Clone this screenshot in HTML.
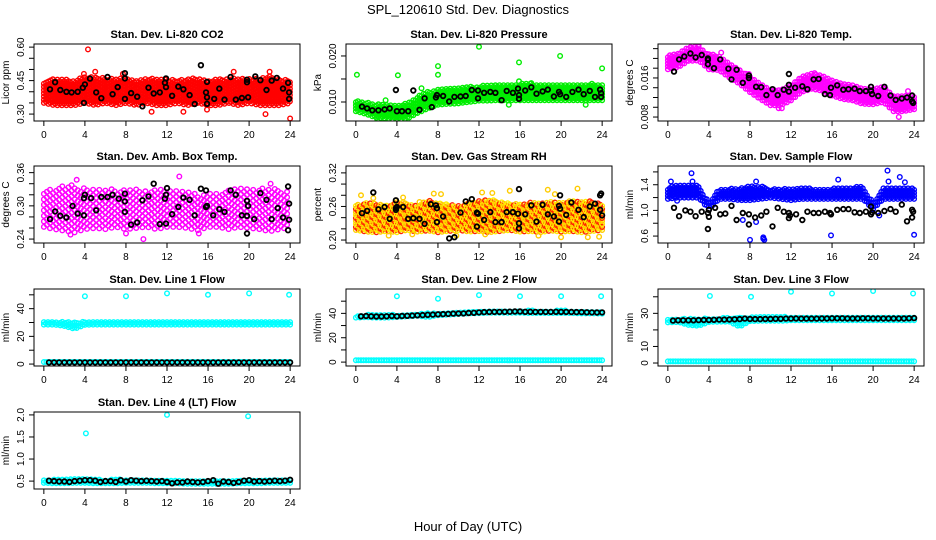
<!DOCTYPE html>
<html><head><meta charset="utf-8">
<style>
html,body{margin:0;padding:0;background:#fff;}
svg{display:block;font-family:"Liberation Sans",sans-serif;}
</style></head>
<body>
<svg id="chart" width="936" height="540" viewBox="0 0 936 540">
<text x="468" y="14" text-anchor="middle" font-size="13">SPL_120610  Std. Dev. Diagnostics</text>
<text x="468" y="531" text-anchor="middle" font-size="13">Hour of Day (UTC)</text>
</svg>
<script>
// ---------- data (hours 0..24 envelopes; points as [hour, value]) ----------
const hourTicks = [0,4,8,12,16,20,24];

const co2Lo = [0.35,0.34,0.34,0.34,0.35,0.34,0.35,0.34,0.35,0.34,0.35,0.34,0.34,0.35,0.34,0.35,0.34,0.34,0.35,0.34,0.35,0.34,0.34,0.34,0.35];
const co2Hi = [0.45,0.46,0.46,0.45,0.47,0.47,0.46,0.46,0.46,0.45,0.46,0.46,0.46,0.45,0.46,0.46,0.45,0.46,0.46,0.46,0.46,0.46,0.47,0.46,0.45];
const co2Out = [[4.3,0.59],[5.0,0.49],[15.9,0.32],[21.6,0.30],[24,0.28],[22,0.49],[18.5,0.49],[13.6,0.31],[10.5,0.31],[7.7,0.48],[3.9,0.48]];
const co2Black = [[0.6,0.411],[1.1,0.443],[1.6,0.408],[2.2,0.40],[2.7,0.397],[3.3,0.40],[3.8,0.418],[3.9,0.35],[4.0,0.433],[4.5,0.459],[5.1,0.397],[5.6,0.371],[6.2,0.466],[6.7,0.389],[7.2,0.421],[7.9,0.483],[7.9,0.46],[7.9,0.368],[8.5,0.394],[9.1,0.378],[9.6,0.335],[10.2,0.418],[10.7,0.392],[11.3,0.397],[11.9,0.46],[11.8,0.44],[11.9,0.421],[12.5,0.382],[13.1,0.423],[13.6,0.411],[14.2,0.385],[14.7,0.345],[15.3,0.519],[15.8,0.397],[15.9,0.346],[15.9,0.375],[15.9,0.444],[16.6,0.368],[17.1,0.414],[17.6,0.365],[18.2,0.466],[18.7,0.365],[19.3,0.372],[19.8,0.454],[19.8,0.443],[19.9,0.375],[20.6,0.469],[21.1,0.452],[21.7,0.408],[22.2,0.45],[22.7,0.462],[23.3,0.414],[23.8,0.44],[23.9,0.397],[23.9,0.368]];

const presLo = [0.0080,0.0074,0.0066,0.0064,0.0062,0.0064,0.0076,0.0086,0.0094,0.0096,0.0097,0.0100,0.0103,0.0103,0.0104,0.0104,0.0104,0.0104,0.0104,0.0104,0.0104,0.0104,0.0104,0.0104,0.0104];
const presHi = [0.0104,0.0100,0.0096,0.0094,0.0092,0.0098,0.0112,0.0122,0.0128,0.0131,0.0132,0.0133,0.0134,0.0138,0.0139,0.0139,0.0140,0.0140,0.0139,0.0139,0.0138,0.0138,0.0139,0.0140,0.0138];
const presOut = [[0.1,0.0159],[4.1,0.0158],[8.0,0.0178],[8.0,0.0159],[12.0,0.0220],[15.9,0.0186],[15.9,0.0145],[19.9,0.0200],[24,0.0173],[6.4,0.0130],[4.8,0.0063],[2.1,0.0060],[22.4,0.0094],[14.9,0.0094],[17.1,0.0141],[2.9,0.0104]];
const presBlack = [[0.6,0.0090],[1.1,0.0086],[1.6,0.0082],[2.2,0.0082],[2.8,0.0084],[3.3,0.0086],[3.9,0.0126],[4.0,0.0080],[4.5,0.0080],[5.1,0.0080],[5.6,0.0125],[6.2,0.0083],[6.7,0.0108],[7.4,0.0089],[7.8,0.0110],[7.9,0.0115],[8.5,0.0113],[9.1,0.0101],[9.6,0.0111],[10.2,0.0112],[10.7,0.0113],[11.3,0.0126],[11.9,0.0125],[11.9,0.0108],[12.5,0.0120],[13.1,0.0122],[13.6,0.0120],[14.2,0.0104],[14.7,0.0124],[15.3,0.0120],[15.8,0.0129],[15.9,0.0115],[15.9,0.0107],[16.5,0.0125],[17.1,0.0132],[17.6,0.0118],[18.2,0.0123],[18.7,0.0127],[19.3,0.0112],[19.8,0.0122],[19.9,0.0117],[20.5,0.0111],[21.1,0.0122],[21.7,0.0127],[22.2,0.0117],[22.8,0.0124],[23.3,0.0111],[23.8,0.0127],[23.9,0.0119],[23.9,0.0111]];

const tempLo = [0.0178,0.0182,0.0195,0.0196,0.0178,0.0176,0.0161,0.0148,0.0131,0.0117,0.0104,0.0104,0.0114,0.0131,0.0138,0.0134,0.0124,0.0117,0.0114,0.0107,0.0106,0.0111,0.0092,0.0092,0.0096];
const tempHi = [0.0206,0.0210,0.0223,0.0224,0.0210,0.0206,0.0191,0.0178,0.0163,0.0149,0.0136,0.0136,0.0146,0.0163,0.0170,0.0166,0.0156,0.0149,0.0146,0.0139,0.0138,0.0143,0.0124,0.0124,0.0124];
const tempOut = [[7.9,0.0168],[14.3,0.0170],[10.8,0.0098],[11.1,0.0098],[22.5,0.0080],[23.4,0.0133],[3.0,0.0228],[5.2,0.0212]];
const tempBlack = [[0.6,0.0173],[1.1,0.0198],[1.6,0.0204],[2.2,0.0210],[2.7,0.0202],[3.3,0.0207],[3.9,0.0200],[3.9,0.0188],[3.9,0.0197],[4.5,0.0180],[5.1,0.0198],[5.9,0.0179],[6.2,0.0157],[6.7,0.0177],[7.3,0.0150],[7.9,0.0165],[7.9,0.0160],[8.6,0.0142],[9.1,0.0141],[9.6,0.0125],[10.2,0.0137],[10.7,0.0125],[11.3,0.0136],[11.8,0.0168],[11.8,0.0146],[11.8,0.0132],[12.4,0.0140],[13.1,0.0143],[13.6,0.0137],[14.2,0.0157],[14.7,0.0158],[15.3,0.0127],[15.8,0.0125],[15.9,0.0140],[16.5,0.0145],[17.1,0.0136],[17.6,0.0137],[18.2,0.0138],[18.7,0.0133],[19.3,0.0133],[19.8,0.0142],[19.8,0.0134],[19.9,0.0127],[20.5,0.0123],[21.1,0.0142],[21.7,0.0124],[22.2,0.0115],[22.8,0.0118],[23.3,0.0120],[23.8,0.0124],[23.8,0.0112],[23.9,0.0109]];

const ambLo = [0.262,0.258,0.255,0.252,0.258,0.260,0.258,0.262,0.258,0.260,0.262,0.258,0.262,0.262,0.260,0.256,0.262,0.262,0.258,0.262,0.260,0.258,0.254,0.258,0.262];
const ambHi = [0.325,0.332,0.336,0.338,0.332,0.330,0.334,0.330,0.332,0.330,0.328,0.332,0.326,0.330,0.326,0.320,0.326,0.322,0.330,0.332,0.330,0.332,0.334,0.330,0.325];
const ambOut = [[13.2,0.353],[9.7,0.240],[3.2,0.347],[2.6,0.248],[8.0,0.250],[15.1,0.250],[22.1,0.340]];
const ambBlack = [[0.6,0.276],[1.1,0.290],[1.6,0.282],[2.2,0.279],[2.8,0.300],[3.3,0.286],[3.9,0.283],[3.9,0.314],[4.0,0.320],[4.6,0.314],[5.1,0.292],[5.6,0.316],[6.2,0.316],[6.7,0.320],[7.3,0.313],[7.9,0.322],[7.9,0.308],[7.9,0.289],[8.5,0.266],[9.1,0.270],[9.6,0.310],[10.2,0.317],[10.7,0.340],[11.3,0.267],[11.8,0.313],[11.9,0.320],[11.9,0.268],[12.0,0.332],[12.5,0.285],[13.1,0.298],[13.6,0.315],[14.2,0.311],[14.7,0.283],[15.3,0.331],[15.8,0.328],[15.8,0.298],[15.9,0.300],[16.5,0.283],[17.1,0.294],[17.6,0.289],[18.2,0.328],[18.7,0.320],[19.3,0.283],[19.8,0.282],[19.8,0.250],[19.8,0.309],[19.9,0.300],[20.5,0.276],[21.1,0.323],[21.7,0.311],[22.2,0.276],[22.8,0.296],[23.3,0.279],[23.8,0.256],[23.8,0.335],[23.9,0.275],[23.9,0.304]];

const rhLo = [0.218,0.215,0.214,0.216,0.214,0.218,0.215,0.217,0.214,0.216,0.218,0.215,0.216,0.214,0.216,0.218,0.215,0.216,0.214,0.217,0.215,0.216,0.214,0.216,0.218];
const rhHi = [0.262,0.268,0.266,0.262,0.270,0.266,0.262,0.272,0.266,0.264,0.262,0.266,0.270,0.274,0.268,0.266,0.264,0.268,0.266,0.270,0.266,0.272,0.268,0.270,0.264];
const rhOut = [[0.5,0.280],[1.7,0.275],[4.6,0.276],[6.2,0.268],[7.6,0.283],[8.3,0.282],[12.3,0.285],[13.3,0.284],[15.0,0.288],[18.7,0.290],[20.0,0.205],[21.6,0.292],[22.6,0.205],[23.7,0.206],[9.8,0.208],[12.6,0.210],[17.8,0.208],[3.2,0.208],[5.5,0.210],[19.4,0.282]];
const rhBlack = [[0.6,0.248],[1.1,0.252],[1.7,0.285],[2.2,0.255],[2.8,0.259],[3.3,0.238],[3.9,0.271],[3.9,0.257],[3.9,0.254],[4.0,0.259],[4.6,0.259],[5.1,0.238],[5.6,0.239],[6.2,0.238],[6.7,0.229],[7.3,0.264],[7.8,0.262],[7.9,0.257],[7.9,0.232],[8.0,0.338],[8.5,0.242],[9.1,0.203],[9.6,0.205],[10.2,0.249],[10.7,0.269],[11.3,0.273],[11.8,0.249],[11.8,0.224],[11.9,0.247],[12.5,0.236],[13.1,0.250],[13.6,0.232],[14.2,0.232],[14.7,0.250],[15.3,0.250],[15.8,0.247],[15.9,0.230],[15.9,0.221],[15.9,0.291],[16.5,0.246],[17.1,0.262],[17.6,0.233],[18.2,0.263],[18.7,0.246],[19.3,0.242],[19.8,0.261],[19.8,0.233],[19.9,0.256],[19.9,0.280],[20.5,0.245],[21.0,0.267],[21.7,0.254],[22.2,0.241],[22.8,0.260],[23.3,0.265],[23.8,0.254],[23.8,0.280],[23.9,0.283],[24.0,0.244]];

const flowLo = [1.18,1.20,1.20,1.20,1.02,1.18,1.18,1.16,1.16,1.18,1.20,1.18,1.16,1.18,1.18,1.18,1.18,1.18,1.18,1.18,1.02,1.18,1.18,1.18,1.18];
const flowHi = [1.36,1.40,1.40,1.40,1.12,1.34,1.34,1.34,1.38,1.38,1.34,1.34,1.34,1.36,1.34,1.34,1.34,1.36,1.36,1.38,1.12,1.36,1.36,1.36,1.34];
const flowOut = [[0.3,1.45],[2.3,1.58],[2.4,1.45],[8.0,0.54],[9.3,0.58],[9.4,0.54],[9.3,0.56],[15.9,0.61],[16.6,1.48],[21.4,1.62],[21.5,1.45],[22.6,1.52],[24.0,0.62],[7.3,0.85],[8.6,0.82],[0.9,1.15],[8.6,1.45],[23.1,1.44],[20.6,0.92]];
const flowBlack = [[0.6,1.04],[1.1,0.91],[1.7,1.00],[2.2,0.98],[2.7,0.91],[3.3,0.98],[3.9,0.71],[3.9,0.96],[4.0,0.90],[4.0,1.01],[4.6,1.04],[5.1,0.94],[5.6,0.95],[6.2,1.07],[6.7,0.85],[7.3,0.96],[7.9,0.94],[7.9,0.78],[8.5,0.89],[9.1,0.92],[9.6,0.98],[10.2,0.75],[10.7,1.04],[11.3,0.98],[11.8,0.96],[11.8,0.88],[11.9,0.92],[12.5,0.94],[13.1,0.85],[13.6,0.98],[14.2,0.96],[14.7,0.96],[15.3,0.98],[15.8,0.96],[15.9,0.94],[16.5,1.01],[17.1,1.02],[17.6,1.02],[18.2,0.97],[18.7,0.96],[19.3,0.98],[19.8,0.94],[19.8,1.06],[19.9,0.97],[20.5,0.96],[21.1,0.99],[21.7,1.02],[22.2,0.98],[22.8,1.09],[23.3,0.83],[23.8,0.89],[23.8,1.01],[23.9,0.98]];

const line1Lo = [28.5,28.5,27.5,25.5,28.3,28.5,28.5,28.5,28.5,28.5,28.5,28.5,28.5,28.5,28.5,28.5,28.5,28.5,28.5,28.5,28.5,28.5,28.5,28.5,28.5];
const line1Hi = [30.5,30.5,30.5,30.5,30.8,30.5,30.5,31.0,31.0,30.5,30.5,30.5,30.5,30.5,30.5,30.5,30.5,30.5,30.5,30.5,30.5,30.5,30.5,30.5,30.5];
const line1Out = [[4.0,49],[8.0,49],[12.0,51],[16.0,50],[20.0,51],[23.9,50]];
const line1Base = [1.5,1.5,1.5,1.5,1.5,1.5,1.5,1.5,1.5,1.5,1.5,1.5,1.5,1.5,1.5,1.5,1.5,1.5,1.5,1.5,1.5,1.5,1.5,1.5,1.5];
const line1Black = [1.2,1.2,1.2,1.2,1.2,1.2,1.2,1.2,1.2,1.2,1.2,1.2,1.2,1.2,1.2,1.2,1.2,1.2,1.2,1.2,1.2,1.2,1.2,1.2,1.2,1.2,1.2,1.2,1.2,1.2,1.2,1.2,1.2,1.2,1.2,1.2,1.2,1.2,1.2,1.2,1.2,1.2,1.2,1.2,1.2,1.2,1.2,1.2];

const line2Lo = [36.5,36.8,36.5,36.5,37.0,37.5,38.0,37.0,38.5,39.0,39.5,40.0,40.2,40.5,40.5,40.5,40.5,40.3,40.3,40.3,40.3,40.3,40.0,40.0,39.8];
const line2Hi = [38.5,38.8,38.8,39.0,39.0,39.5,40.0,40.2,40.5,41.0,41.5,42.0,42.2,42.5,42.5,42.5,42.5,42.4,42.3,42.3,42.5,42.3,42.0,42.0,41.8];
const line2Out = [[4.0,54],[8.0,52],[12.0,55],[16.0,54],[20.0,54],[23.9,54]];
const line2Base = [1.5,1.5,1.5,1.5,1.5,1.5,1.5,1.5,1.5,1.5,1.5,1.5,1.5,1.5,1.5,1.5,1.5,1.5,1.5,1.5,1.5,1.5,1.5,1.5,1.5];
const line2Black = [37.6,37.8,37.6,37.4,37.4,37.6,37.8,37.6,37.8,38.0,38.2,38.4,38.6,38.8,39.0,39.2,39.4,39.6,39.8,39.9,40.0,40.3,40.5,40.8,41.0,41.1,41.2,41.2,41.3,41.4,41.5,41.5,41.3,41.3,41.2,41.2,41.2,41.2,41.3,41.2,41.2,41.1,41.0,41.0,40.9,40.8,40.7,40.8];

const line3Lo = [24.5,24.8,23.0,22.5,24.8,25.0,25.0,22.0,25.3,25.5,25.5,25.5,25.8,25.8,25.8,25.8,25.8,25.8,25.8,25.8,25.8,25.8,25.8,25.8,25.8];
const line3Hi = [26.5,26.8,26.8,26.8,27.0,27.2,27.4,27.6,27.8,27.8,27.8,27.9,28.0,28.0,28.0,28.0,28.0,28.0,28.0,28.0,28.0,27.9,27.9,27.9,27.9];
const line3Out = [[4.1,40.5],[8.1,40],[12.0,43],[16.0,42],[20.0,43.5],[23.9,42]];
const line3Base = [1.0,1.0,1.0,1.0,1.0,1.0,1.0,1.0,1.0,1.0,1.0,1.0,1.0,1.0,1.0,1.0,1.0,1.0,1.0,1.0,1.0,1.0,1.0,1.0,1.0];
const line3Black = [25.6,25.8,25.8,25.8,25.8,25.9,26.0,26.0,26.1,26.2,26.2,26.3,26.4,26.5,26.8,26.6,26.5,26.5,26.6,26.6,26.7,26.7,26.8,26.8,26.9,26.8,26.8,26.8,26.8,26.9,26.9,27.0,27.0,27.0,26.9,26.9,26.9,27.0,27.0,26.9,26.9,26.9,26.9,26.9,26.9,26.9,27.0,27.1];

const line4Lo = [0.46,0.45,0.45,0.46,0.46,0.45,0.45,0.45,0.46,0.46,0.46,0.45,0.45,0.45,0.44,0.44,0.44,0.44,0.44,0.45,0.45,0.45,0.46,0.46,0.46];
const line4Hi = [0.52,0.54,0.55,0.55,0.56,0.54,0.53,0.54,0.54,0.53,0.53,0.52,0.52,0.53,0.52,0.52,0.52,0.51,0.51,0.52,0.52,0.52,0.53,0.54,0.54];
const line4Out = [[4.1,1.58],[12.0,2.0],[19.9,1.97]];
const line4Black = [0.51,0.50,0.49,0.49,0.48,0.50,0.51,0.52,0.52,0.51,0.48,0.50,0.50,0.48,0.52,0.49,0.52,0.51,0.50,0.51,0.50,0.49,0.50,0.48,0.45,0.47,0.47,0.49,0.48,0.47,0.48,0.50,0.52,0.44,0.49,0.48,0.46,0.48,0.51,0.52,0.49,0.50,0.49,0.50,0.51,0.50,0.51,0.53];

// ---------- rendering ----------
const NS = "http://www.w3.org/2000/svg";
const svg = document.getElementById('chart');
function mk(tag, attrs, parent){
  const e = document.createElementNS(NS, tag);
  for (const k in attrs) e.setAttribute(k, attrs[k]);
  (parent||svg).appendChild(e);
  return e;
}
const colX = [34, 346, 658];
const rowY = [44, 166, 289, 412];
const BW = 266, BH = 77;

function envAt(arr, h){ const i = Math.min(23, Math.floor(h)); const f = h - i; return arr[i]*(1-f) + arr[i+1]*f; }

function panel(cfg){
  const bx = colX[cfg.col], by = rowY[cfg.row];
  const g = mk('g', {});
  
  
  const sx = h => bx + (h + 0.96) / 25.92 * BW;
  const sy = v => by + BH - (v - cfg.ymin) / (cfg.ymax - cfg.ymin) * BH;
  const cid = 'clip' + cfg.name;
  const cp = mk('clipPath', {id: cid}, g);
  mk('rect', {x: bx, y: by, width: BW, height: BH}, cp);
  const marks = mk('g', {'clip-path': 'url(#' + cid + ')'}, g);
  
  
  function pt(h, v, color, sw){
    const c = mk('circle', {cx: sx(h).toFixed(1), cy: sy(v).toFixed(1), r: 2.3, fill: 'none', stroke: color, 'stroke-width': sw||1.4}, marks);
    
    
  }
  (cfg.clouds||[]).forEach(cl => {
    let k = 0;
    for (let h = 0; h <= 24; h += cl.dx) {
      const lo = envAt(cl.lo, h), hi = envAt(cl.hi, h);
      const yTop = sy(hi), yBot = sy(lo);
      let j = 0;
      for (let y = yBot - ((k % 2) ? cl.dy / 2 : 0); y >= yTop; y -= cl.dy) {
        const col = cl.colors[(k + j) % cl.colors.length];
        const c = mk('circle', {cx: sx(h).toFixed(1), cy: y.toFixed(1), r: 2.3, fill: 'none', stroke: col, 'stroke-width': 1.4}, marks);
        
        
        j++;
      }
      k++;
    }
  });
  (cfg.baseLines||[]).forEach(b => {
    for (let i = 0; i < b.vals.length; i++) {
      for (let s = 0; s < 4; s++) { if (i + s * 0.25 <= 24) pt(i + s * 0.25, b.vals[i], b.color); }
    }
  });
  (cfg.outliers||[]).forEach(o => o.pts.forEach(p => pt(p[0], p[1], o.color)));
  (cfg.halfHourly||[]).forEach(b => b.vals.forEach((v, i) => pt(0.5 + i * 0.5, v, b.color, 1.8)));
  (cfg.black||[]).forEach(p => pt(p[0], p[1], '#000', 1.8));
  const box = mk('rect', {x: bx, y: by, width: BW, height: BH, fill: 'none', stroke: '#000', 'stroke-width': 1}, g);
  
  
  const t = mk('text', {x: bx + BW/2, y: by - 6, 'text-anchor': 'middle', 'font-size': 11, 'font-weight': 'bold'}, g);
  t.textContent = cfg.title;
  
  
  const xa = mk('g', {}, g);
  
  
  mk('line', {x1: sx(0), x2: sx(24), y1: by + BH, y2: by + BH, stroke: '#000'}, xa);
  hourTicks.forEach(h => {
    mk('line', {x1: sx(h), x2: sx(h), y1: by + BH, y2: by + BH + 5, stroke: '#000'}, xa);
    const tl = mk('text', {x: sx(h), y: by + BH + 17, 'text-anchor': 'middle', 'font-size': 10}, xa);
    tl.textContent = h;
    
    
  });
  const ya = mk('g', {}, g);
  
  
  const yt = cfg.yticks;
  mk('line', {x1: bx, x2: bx, y1: sy(yt[0]), y2: sy(yt[yt.length-1]), stroke: '#000'}, ya);
  yt.forEach(v => {
    if (v < cfg.ymin || v > cfg.ymax) return;
    mk('line', {x1: bx - 5, x2: bx, y1: sy(v), y2: sy(v), stroke: '#000'}, ya);
  });
  cfg.ylabels.forEach(v => {
    const lx = bx - 10, ly = sy(v);
    const tl = mk('text', {x: lx, y: ly, 'text-anchor': 'middle', 'font-size': 10, transform: 'rotate(-90 ' + lx + ' ' + ly + ')'}, ya);
    tl.textContent = cfg.fmt(v);
    
    
  });
  const yx = bx - 25, yy = by + BH/2;
  const yl = mk('text', {x: yx, y: yy, 'text-anchor': 'middle', 'font-size': 10, transform: 'rotate(-90 ' + yx + ' ' + yy + ')'}, g);
  yl.textContent = cfg.ylab;
  
  
}

const f2 = v => v.toFixed(2), f3 = v => v.toFixed(3), f1 = v => v.toFixed(1), f0 = v => v.toFixed(0);

panel({name:'panel-co2', col:0,row:0,title:'Stan. Dev. Li-820 CO2', ylab:'Licor ppm', ymin:0.269, ymax:0.614,
  yticks:[0.30,0.35,0.40,0.45,0.50,0.55,0.60], ylabels:[0.30,0.45,0.60], fmt:f2,
  clouds:[{lo:co2Lo,hi:co2Hi,dx:0.22,dy:3.2,colors:['#ff0000']}],
  outliers:[{color:'#ff0000',pts:co2Out}], black:co2Black});
panel({name:'panel-pressure', col:1,row:0,title:'Stan. Dev. Li-820 Pressure', ylab:'kPa', ymin:0.00587, ymax:0.0226,
  yticks:[0.010,0.015,0.020], ylabels:[0.010,0.020], fmt:f3,
  clouds:[{lo:presLo,hi:presHi,dx:0.2,dy:3,colors:['#00ee00']}],
  outliers:[{color:'#00ee00',pts:presOut}], black:presBlack});
panel({name:'panel-temp', col:2,row:0,title:'Stan. Dev. Li-820 Temp.', ylab:'degrees C', ymin:0.00719, ymax:0.02295,
  yticks:[0.008,0.010,0.012,0.014,0.016,0.018,0.020,0.022], ylabels:[0.008,0.016], fmt:f3,
  clouds:[{lo:tempLo,hi:tempHi,dx:0.2,dy:3,colors:['#ff00ff']}],
  outliers:[{color:'#ff00ff',pts:tempOut}], black:tempBlack});
panel({name:'panel-amb-temp', col:0,row:1,title:'Stan. Dev. Amb. Box Temp.', ylab:'degrees C', ymin:0.2329, ymax:0.372,
  yticks:[0.24,0.26,0.28,0.30,0.32,0.34,0.36], ylabels:[0.24,0.30,0.36], fmt:f2,
  clouds:[{lo:ambLo,hi:ambHi,dx:0.3,dy:5.5,colors:['#ff00ff']}],
  outliers:[{color:'#ff00ff',pts:ambOut}], black:ambBlack});
panel({name:'panel-rh', col:1,row:1,title:'Stan. Dev. Gas Stream RH', ylab:'percent', ymin:0.1947, ymax:0.3323,
  yticks:[0.20,0.22,0.24,0.26,0.28,0.30,0.32], ylabels:[0.20,0.26,0.32], fmt:f2,
  clouds:[{lo:rhLo,hi:rhHi,dx:0.2,dy:3,colors:['#ffcc00','#ff2200','#ffee00']}],
  outliers:[{color:'#ffcc00',pts:rhOut}], black:rhBlack});
panel({name:'panel-sample-flow', col:2,row:1,title:'Stan. Dev. Sample Flow', ylab:'ml/min', ymin:0.492, ymax:1.692,
  yticks:[0.6,0.8,1.0,1.2,1.4,1.6], ylabels:[0.6,1.0,1.4], fmt:f1,
  clouds:[{lo:flowLo,hi:flowHi,dx:0.2,dy:3,colors:['#0000ff']}],
  outliers:[{color:'#0000ff',pts:flowOut}], black:flowBlack});
panel({name:'panel-line1', col:0,row:2,title:'Stan. Dev. Line 1 Flow', ylab:'ml/min', ymin:-1.4, ymax:54.2,
  yticks:[0,10,20,30,40,50], ylabels:[0,20,40], fmt:f0,
  clouds:[{lo:line1Lo,hi:line1Hi,dx:0.2,dy:2.5,colors:['#00ffff']}],
  baseLines:[{color:'#00ffff',vals:line1Base}],
  outliers:[{color:'#00ffff',pts:line1Out}], halfHourly:[{color:'#000',vals:line1Black}]});
panel({name:'panel-line2', col:1,row:2,title:'Stan. Dev. Line 2 Flow', ylab:'ml/min', ymin:-3.2, ymax:60,
  yticks:[0,10,20,30,40,50], ylabels:[0,20,40], fmt:f0,
  clouds:[{lo:line2Lo,hi:line2Hi,dx:0.2,dy:2.5,colors:['#00ffff']}],
  baseLines:[{color:'#00ffff',vals:line2Base}],
  outliers:[{color:'#00ffff',pts:line2Out}], halfHourly:[{color:'#000',vals:line2Black}]});
panel({name:'panel-line3', col:2,row:2,title:'Stan. Dev. Line 3 Flow', ylab:'ml/min', ymin:-1.8, ymax:44.7,
  yticks:[0,10,20,30,40], ylabels:[0,10,30], fmt:f0,
  clouds:[{lo:line3Lo,hi:line3Hi,dx:0.2,dy:2.5,colors:['#00ffff']}],
  baseLines:[{color:'#00ffff',vals:line3Base}],
  outliers:[{color:'#00ffff',pts:line3Out}], halfHourly:[{color:'#000',vals:line3Black}]});
panel({name:'panel-line4', col:0,row:3,title:'Stan. Dev. Line 4 (LT) Flow', ylab:'ml/min', ymin:0.321, ymax:2.066,
  yticks:[0.5,1.0,1.5,2.0], ylabels:[0.5,1.0,1.5,2.0], fmt:f1,
  clouds:[{lo:line4Lo,hi:line4Hi,dx:0.2,dy:2.5,colors:['#00ffff']}],
  outliers:[{color:'#00ffff',pts:line4Out}], halfHourly:[{color:'#000',vals:line4Black}]});
</script>
</body></html>
